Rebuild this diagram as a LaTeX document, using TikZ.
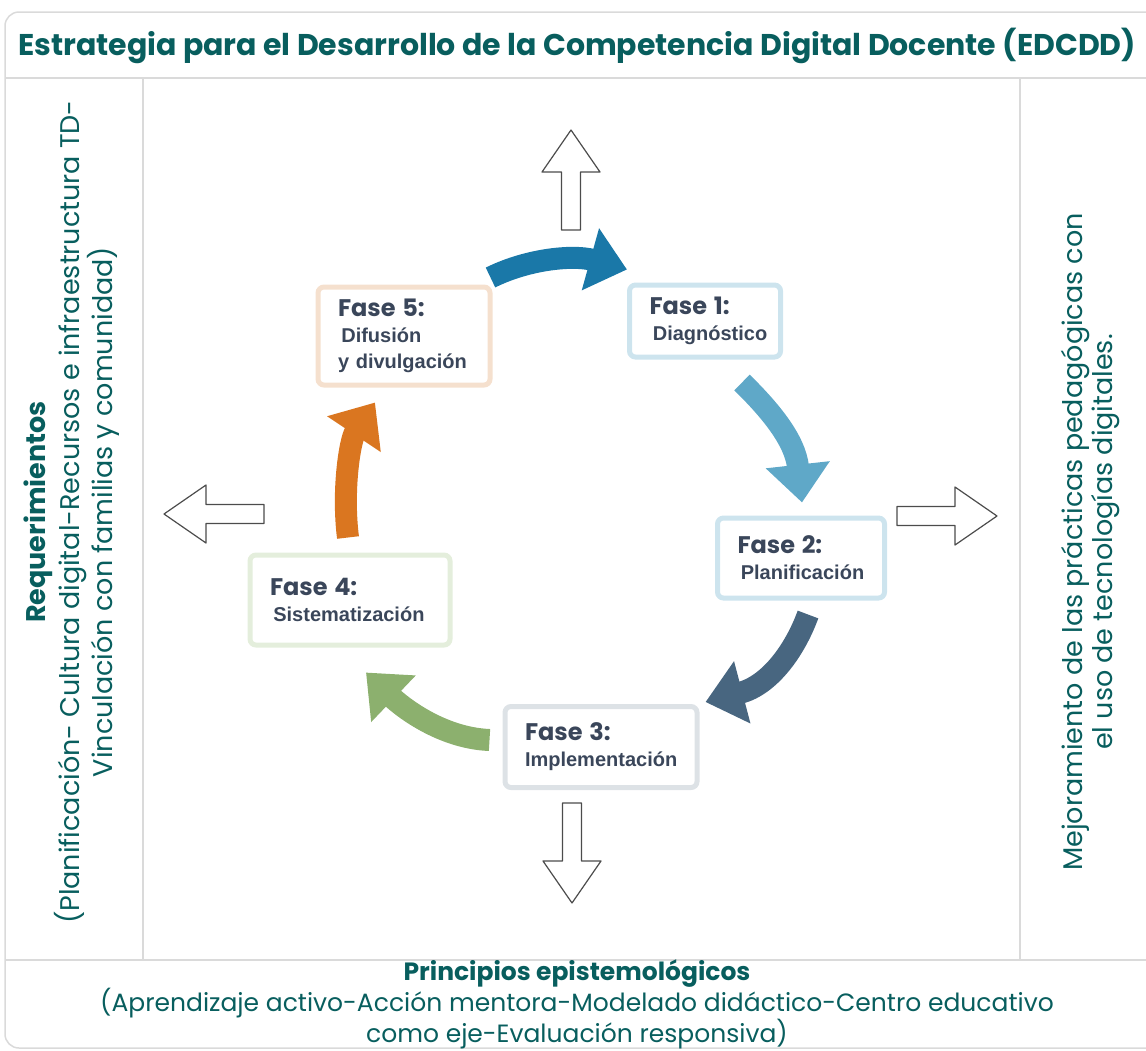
\documentclass[tikz,border=0pt]{standalone}
\usepackage{fontspec}
\setmainfont{Poppins}
\newfontfamily\boxFont{Liberation Sans}
\usetikzlibrary{positioning, arrows.meta}
\definecolor{titleColor}{RGB}{8,94,94}
\definecolor{frameColor}{RGB}{218,218,218}
\definecolor{faseTextColor}{RGB}{58,70,90}
\definecolor{peachColor}{RGB}{245,224,206}
\definecolor{paleBlue}{RGB}{205,228,238}
\definecolor{paleGrey}{RGB}{221,226,230}
\definecolor{paleGreen}{RGB}{228,238,220}
\definecolor{arrowBlue}{RGB}{26,120,168}
\definecolor{arrowSky}{RGB}{95,168,200}
\definecolor{arrowSlate}{RGB}{72,102,128}
\definecolor{arrowGreen}{RGB}{140,176,110}
\definecolor{arrowOrange}{RGB}{218,118,32}
\tikzstyle{diagram} = [x=1pt, y=-1pt]
\tikzstyle{frameLine} = [draw=frameColor, line width=1.5pt]
\tikzstyle{titleText} = [text=titleColor, font=\fontsize{30}{34}\selectfont\bfseries]
\tikzstyle{sideText} = [text=titleColor, align=center, font=\fontsize{27}{30}\selectfont]
\tikzstyle{bottomText} = [text=titleColor, align=center, font=\fontsize{25}{27}\selectfont]
\tikzstyle{faseBox} = [rounded corners=6pt, line width=5pt, align=left, inner xsep=20pt, text=faseTextColor, font=\fontsize{20}{26}\selectfont]
\tikzstyle{cycleArrow} = [line width=22pt, -{Triangle[length=38pt, width=62pt]}]
\tikzstyle{hollowArrowStyle} = [draw=black!70, fill=white, line width=1.2pt, line join=round]
\newcommand{\faseTitle}[1]{{\fontsize{24}{26}\selectfont\bfseries #1}}
\newcommand{\faseBody}[1]{{\boxFont\fontsize{20}{26}\selectfont\bfseries #1}}
\newcommand{\faseNode}[7]{\node [faseBox, draw=#2, text width=#4, minimum height=#5] (#1) at #3 {\faseTitle{#6}\\\faseBody{#7}};}
\newcommand{\hollowArrow}[2]{\draw [hollowArrowStyle, shift={#1}, rotate=#2] (0,-9.5) -- (58,-9.5) -- (58,-29) -- (100,0) -- (58,29) -- (58,9.5) -- (0,9.5) -- cycle;}

\begin{document}
\begin{tikzpicture}[diagram]
  \useasboundingbox (0,0) rectangle (1146,1050);
  % frame and columns
  \draw [frameLine, rounded corners=14pt] (5,12) rectangle (1170,1048);
  \draw [frameLine] (5,78) -- (1146,78);
  \draw [frameLine] (5,960) -- (1146,960);
  \draw [frameLine] (143,78) -- (143,960);
  \draw [frameLine] (1020,78) -- (1020,960);

  \node [titleText] (title) at (577,46) {Estrategia para el Desarrollo de la Competencia Digital Docente (EDCDD)};
  \node [sideText, rotate=90] (requerimientos) at (72,512) {\textbf{Requerimientos}\\(Planificación- Cultura digital-Recursos e infraestructura TD-\\Vinculación con familias y comunidad)};
  \node [sideText, rotate=90] (mejoramiento) at (1090,542) {Mejoramiento de las prácticas pedagógicas con\\el uso de tecnologías digitales.};
  \node [bottomText] (principios) at (577,1004) {\textbf{Principios epistemológicos}\\(Aprendizaje activo-Acción mentora-Modelado didáctico-Centro educativo\\como eje-Evaluación responsiva)};

  % phases
  \faseNode{fase5}{peachColor}{(404,336)}{132pt}{98pt}{Fase 5:}{\,Difusión\\y divulgación}
  \faseNode{fase1}{paleBlue}{(705,321)}{111pt}{72pt}{Fase 1:}{\,Diagnóstico}
  \faseNode{fase2}{paleBlue}{(801,558)}{127pt}{80pt}{Fase 2:}{\,Planificación}
  \faseNode{fase3}{paleGrey}{(601,747)}{152pt}{81pt}{Fase 3:}{Implementación}
  \faseNode{fase4}{paleGreen}{(350,600)}{160pt}{90pt}{Fase 4:}{\,Sistematización}

  % cycle
  \draw [cycleArrow, arrowBlue] ([shift={(-2,-7)}]fase5.north east) .. controls (530,258) and (575,255) .. ([shift={(0,-13)}]fase1.north west);
  \draw [cycleArrow, arrowSky] ([shift={(37,23)}]fase1.south) .. controls (770,410) and (795,440) .. ([shift={(1,-13)}]fase2.north);
  \draw [cycleArrow, arrowSlate] ([shift={(7,14)}]fase2.south) .. controls (795,650) and (770,685) .. ([shift={(6,-2)}]fase3.north east);
  \draw [cycleArrow, arrowGreen] ([shift={(-13,-7)}]fase3.west) .. controls (440,738) and (400,705) .. ([shift={(16,25)}]fase4.south);
  \draw [cycleArrow, arrowOrange] ([shift={(-2,-15)}]fase4.north) .. controls (342,490) and (350,440) .. ([shift={(-29,15)}]fase5.south);

  % outward arrows
  \hollowArrow{(571,230)}{90}
  \hollowArrow{(572,803)}{-90}
  \hollowArrow{(264,514)}{180}
  \hollowArrow{(897,516)}{0}
\end{tikzpicture}
\end{document}
